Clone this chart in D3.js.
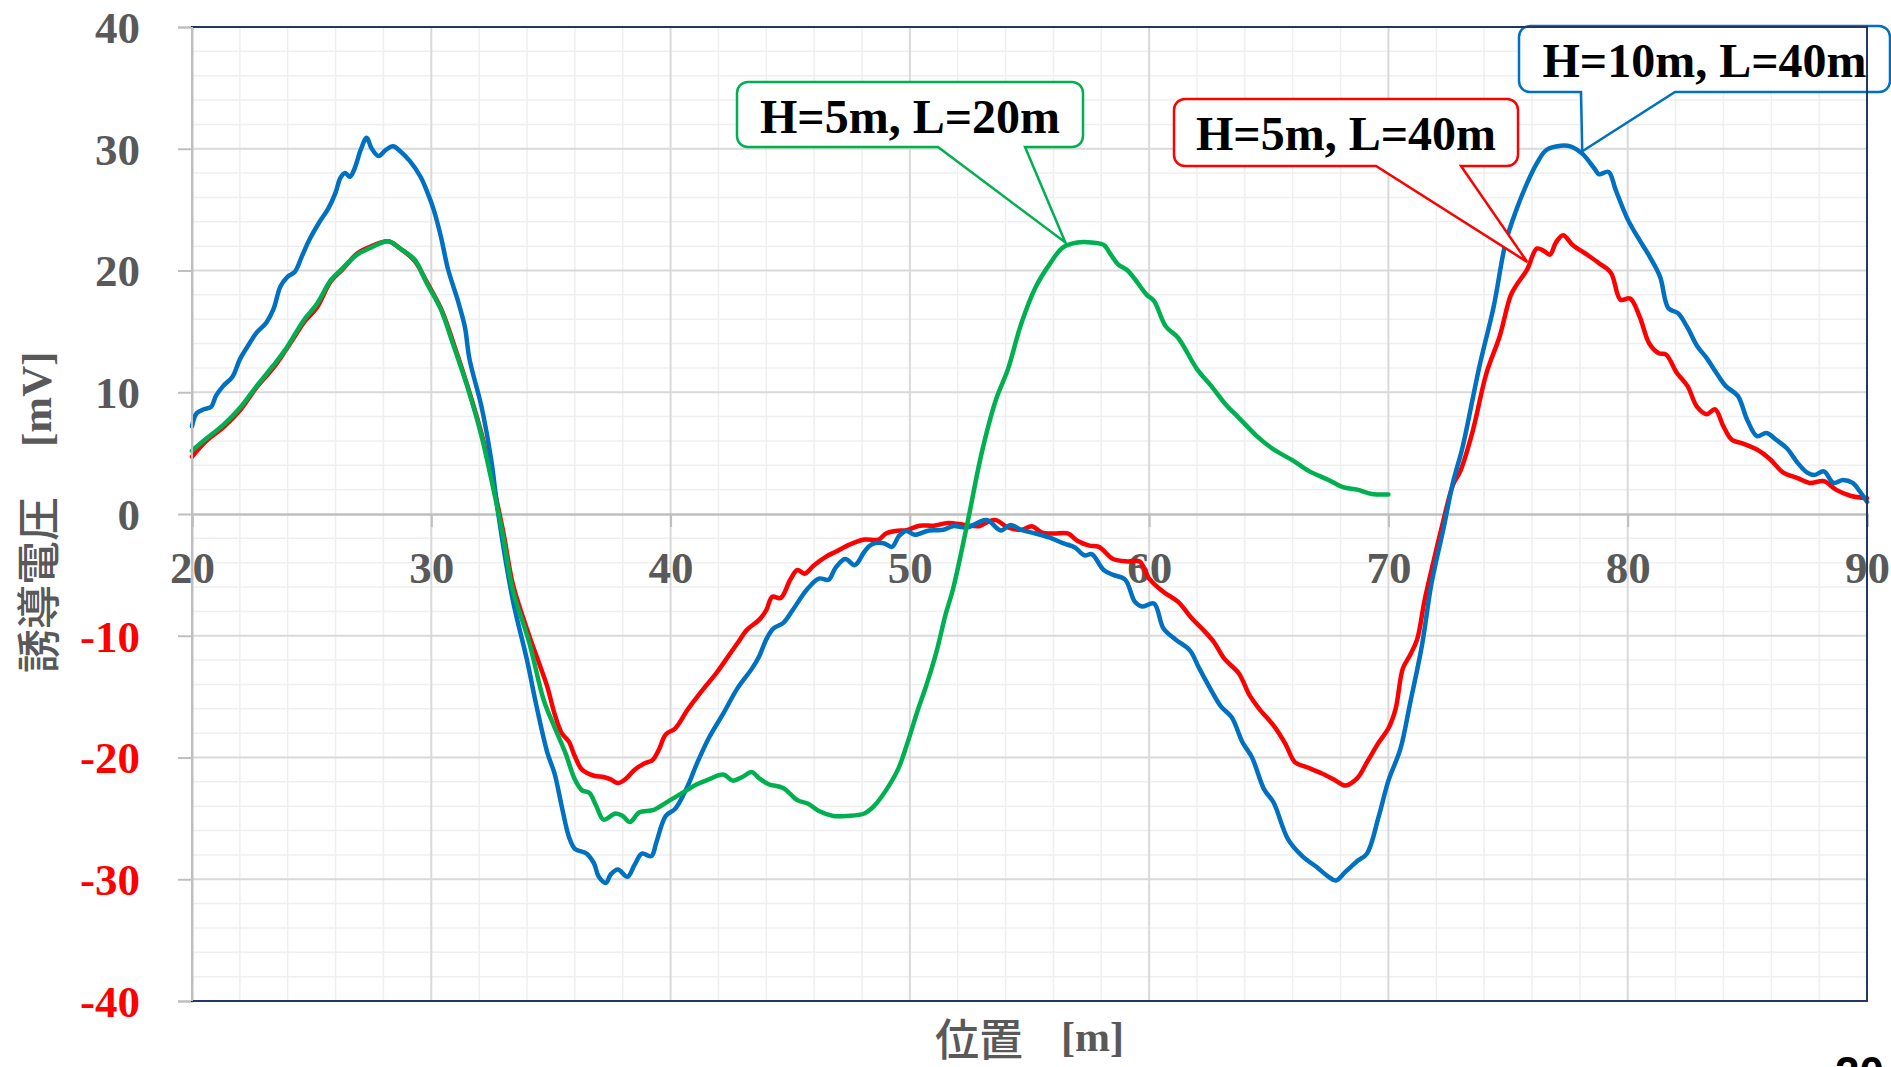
<!DOCTYPE html>
<html>
<head>
<meta charset="utf-8">
<script src="https://cdn.jsdelivr.net/npm/d3@7"></script>
<style>
  html, body { margin: 0; padding: 0; background: #fff; overflow: hidden; }
</style>
</head>
<body>
<svg id="chart"></svg>
<script>
// axis ticks
const xTicks = [20, 30, 40, 50, 60, 70, 80, 90];
const yTicks = [-40, -30, -20, -10, 0, 10, 20, 30, 40];

// H=10m, L=40m (blue)
const blueX = [20.0, 20.2, 20.5, 20.8, 21.0, 21.3, 21.7, 22.0, 22.4, 22.7, 23.1, 23.4, 23.7, 24.0, 24.3, 24.6, 24.9, 25.3, 25.7, 26.0,
  26.2, 26.4, 26.6, 26.8, 27.05, 27.3, 27.5, 27.8, 28.1, 28.4, 28.7, 29.1, 29.55, 29.8, 30.1, 30.4, 30.7, 31.1, 31.4, 31.6,
  32.1, 32.5, 32.8, 33.4, 34.0, 34.4, 34.85, 35.15, 35.45, 35.75, 36.0, 36.5, 36.8, 37.0, 37.3, 37.5, 37.8, 38.2, 38.5, 38.8,
  39.2, 39.4, 39.8, 40.2, 40.7, 41.1, 41.6, 42.2, 42.8, 43.4, 43.7, 44.0, 44.3, 44.7, 45.1, 45.7, 46.2, 46.6, 46.9, 47.3,
  47.7, 48.1, 48.4, 48.9, 49.25, 49.55, 49.85, 50.2, 50.8, 51.4, 51.8, 52.4, 53.2, 53.8, 54.2, 54.65, 55.25, 55.85, 56.4, 56.9,
  57.3, 57.6, 58.1, 58.5, 59.0, 59.4, 59.7, 60.2, 60.6, 61.1, 61.7, 62.1, 62.6, 63.0, 63.45, 63.9, 64.3, 64.8, 65.2, 65.8,
  66.4, 67.0, 67.5, 67.8, 68.2, 68.7, 69.1, 69.6, 70.0, 70.5, 70.9, 71.4, 71.8, 72.3, 72.7, 73.1, 73.8, 74.4, 74.9, 75.35,
  75.8, 76.2, 76.6, 77.2, 77.6, 78.1, 78.6, 78.8, 79.2, 79.5, 80.0, 80.4, 80.9, 81.35, 81.7, 82.1, 82.5, 82.9, 83.3, 83.7,
  84.1, 84.6, 85.0, 85.4, 85.8, 86.2, 86.65, 87.1, 87.5, 87.8, 88.2, 88.6, 89.0, 89.4, 89.7, 90.0];
const blueY = [7.2, 8.3, 8.6, 8.8, 9.7, 10.5, 11.3, 12.7, 14.0, 14.9, 15.7, 16.8, 18.7, 19.5, 19.9, 21.2, 22.5, 23.9, 25.1, 26.4,
  27.6, 28.0, 27.7, 28.4, 29.9, 30.9, 30.05, 29.4, 29.9, 30.2, 29.8, 29.0, 27.7, 26.6, 25.0, 22.8, 20.1, 17.6, 15.4, 12.7,
  8.8, 4.5, 0.0, -7.0, -12.0, -15.8, -19.6, -21.3, -24.0, -26.5, -27.5, -27.9, -28.7, -29.8, -30.3, -29.6, -29.2, -29.8, -28.8, -27.9,
  -28.1, -27.0, -24.8, -24.2, -22.4, -20.5, -18.4, -16.4, -14.3, -12.7, -11.7, -10.3, -9.4, -8.96, -7.9, -6.2, -5.3, -5.4, -4.4, -3.7,
  -4.2, -3.1, -2.5, -2.4, -2.7, -1.8, -1.4, -1.7, -1.35, -1.3, -1.0, -1.1, -0.5, -1.35, -0.9, -1.3, -1.6, -1.95, -2.4, -2.75,
  -3.4, -3.3, -4.6, -5.0, -5.4, -7.2, -7.6, -7.35, -9.4, -10.3, -11.2, -12.7, -14.5, -15.8, -16.7, -18.75, -20.0, -22.6, -23.7, -26.7,
  -28.1, -29.0, -29.8, -30.1, -29.4, -28.5, -27.9, -24.8, -21.9, -19.3, -15.6, -10.8, -5.7, -1.2, 2.6, 5.5, 12.1, 17.05, 22.3, 25.0,
  27.2, 28.8, 29.9, 30.25, 30.2, 29.6, 28.4, 27.9, 28.1, 26.6, 24.2, 22.8, 21.2, 19.5, 16.9, 16.5, 15.3, 13.8, 12.8, 11.6,
  10.5, 9.7, 7.7, 6.4, 6.65, 6.1, 5.4, 4.2, 3.4, 3.2, 3.5, 2.55, 2.8, 2.55, 1.85, 1.0];

// H=5m, L=40m (red)
const redX = [20.0, 20.6, 21.3, 22.0, 22.7, 23.4, 23.9, 24.3, 24.7, 25.2, 25.8, 26.3, 26.9, 27.5, 28.2, 28.7, 29.3, 29.8, 30.4, 30.9,
  31.5, 32.1, 32.6, 33.0, 33.4, 33.8, 34.2, 34.55, 34.85, 35.15, 35.45, 35.75, 36.0, 36.3, 36.8, 37.2, 37.5, 37.8, 38.1, 38.5,
  38.9, 39.25, 39.5, 39.8, 40.2, 40.7, 41.0, 41.4, 41.9, 42.3, 42.8, 43.2, 43.7, 44.0, 44.25, 44.6, 45.0, 45.3, 45.6, 46.0,
  46.5, 46.9, 47.5, 48.1, 48.7, 49.0, 49.4, 49.9, 50.4, 51.0, 51.6, 52.3, 52.9, 53.3, 53.6, 54.1, 54.65, 55.1, 55.5, 56.0,
  56.6, 57.0, 57.5, 57.9, 58.5, 59.1, 59.6, 60.0, 60.6, 61.2, 61.8, 62.3, 62.7, 63.15, 63.75, 64.2, 64.6, 65.25, 65.7, 66.1,
  66.6, 67.2, 67.8, 68.2, 68.7, 69.1, 69.6, 70.0, 70.3, 70.6, 70.9, 71.2, 71.5, 71.8, 72.25, 72.7, 73.0, 73.5, 74.1, 74.65,
  75.1, 75.35, 75.8, 76.2, 76.5, 76.75, 77.0, 77.3, 77.7, 78.3, 78.8, 79.3, 79.7, 80.1, 80.5, 80.9, 81.3, 81.6, 82.05, 82.5,
  82.9, 83.3, 83.65, 84.0, 84.35, 84.8, 85.4, 85.95, 86.5, 87.1, 87.6, 88.2, 88.7, 89.3, 90.0];
const redY = [4.7, 6.0, 7.1, 8.5, 10.4, 12.0, 13.4, 14.6, 15.8, 16.9, 19.1, 20.1, 21.4, 22.0, 22.4, 21.8, 20.8, 19.1, 16.9, 14.2,
  10.6, 6.6, 2.3, -1.4, -5.7, -8.3, -10.6, -12.5, -14.2, -16.4, -18.0, -18.7, -19.9, -21.0, -21.5, -21.6, -21.8, -22.1, -21.8, -21.0,
  -20.5, -20.2, -19.4, -18.1, -17.6, -16.1, -15.3, -14.3, -13.1, -12.0, -10.6, -9.5, -8.7, -7.9, -6.8, -6.9, -5.4, -4.6, -4.9, -4.2,
  -3.5, -3.1, -2.5, -2.1, -2.1, -1.6, -1.4, -1.3, -0.96, -0.96, -0.74, -0.9, -1.0, -0.6, -0.5, -1.1, -1.3, -1.0, -1.5, -1.6,
  -1.6, -2.2, -2.6, -2.7, -3.7, -3.9, -3.9, -5.3, -6.4, -7.2, -8.6, -9.6, -10.5, -11.9, -13.1, -14.9, -16.0, -17.5, -18.9, -20.4,
  -20.8, -21.3, -21.9, -22.3, -21.7, -20.4, -18.75, -17.6, -16.0, -12.7, -11.6, -10.3, -7.2, -4.6, -0.9, 2.4, 3.5, 6.65, 11.6, 14.6,
  17.9, 18.8, 20.1, 21.8, 21.6, 21.3, 22.3, 22.9, 22.1, 21.3, 20.6, 19.8, 17.6, 17.7, 16.2, 14.0, 13.2, 13.1, 11.6, 10.5,
  8.8, 8.2, 8.6, 7.2, 6.1, 5.8, 5.3, 4.5, 3.4, 2.95, 2.55, 2.7, 2.0, 1.5, 1.3];

// H=5m, L=20m (green)
const greenX = [20.0, 20.6, 21.3, 22.0, 22.7, 23.4, 23.9, 24.7, 25.2, 25.8, 26.3, 26.9, 27.5, 28.2, 28.7, 29.3, 29.8, 30.4, 30.9, 31.5,
  32.1, 32.6, 33.0, 33.4, 34.1, 34.7, 35.15, 35.6, 36.0, 36.3, 36.6, 36.9, 37.2, 37.7, 38.0, 38.3, 38.7, 39.3, 39.9, 40.5,
  41.1, 41.6, 42.2, 42.6, 43.0, 43.4, 43.7, 44.1, 44.7, 45.3, 45.75, 46.2, 46.8, 47.4, 48.1, 48.5, 49.0, 49.5, 49.9, 50.3,
  50.7, 51.1, 51.5, 51.8, 52.4, 53.0, 53.6, 54.1, 54.65, 55.25, 55.8, 56.4, 57.0, 57.6, 58.1, 58.4, 58.7, 59.1, 59.4, 59.9,
  60.2, 60.7, 61.2, 62.0, 62.6, 63.2, 63.75, 64.5, 65.2, 66.0, 66.7, 67.5, 68.1, 68.7, 69.3, 70.0];
const greenY = [5.2, 6.2, 7.3, 8.7, 10.5, 12.2, 13.5, 16.0, 17.2, 19.2, 20.2, 21.3, 21.9, 22.4, 21.8, 20.9, 19.0, 16.8, 14.0, 10.5,
  6.4, 2.0, -1.8, -6.2, -10.6, -15.3, -17.5, -19.6, -21.8, -22.7, -22.9, -24.0, -25.1, -24.6, -24.8, -25.3, -24.5, -24.3, -23.6, -22.9,
  -22.2, -21.8, -21.4, -21.9, -21.6, -21.2, -21.7, -22.2, -22.5, -23.5, -23.8, -24.4, -24.8, -24.8, -24.6, -24.0, -22.7, -21.0, -18.8, -16.3,
  -14.0, -11.4, -8.2, -6.2, -0.8, 5.0, 9.4, 11.9, 15.6, 18.6, 20.4, 21.9, 22.3, 22.3, 22.1, 21.3, 20.5, 20.0, 19.3, 18.0,
  17.5, 15.4, 14.5, 11.9, 10.5, 9.0, 7.9, 6.4, 5.3, 4.4, 3.5, 2.8, 2.2, 2.0, 1.65, 1.6];

// callout labels and the points they refer to
const calloutText = ['H=5m, L=20m', 'H=5m, L=40m', 'H=10m, L=40m'];
const calloutTipX = [56.5, 75.8, 78.1];
const calloutTipY = [22.3, 20.7, 29.8];

const width = 1891, height = 1067;
const pLeft = 192, pRight = 1867, pTop = 27, pBottom = 1001;

const svg = d3.select('#chart').attr('width', width).attr('height', height);

const x = d3.scaleLinear().domain([20, 90]).range([pLeft, pRight]);
const y = d3.scaleLinear().domain([-40, 40]).range([pBottom, pTop]);

// minor grid (every 2)
const minorX = d3.range(22, 90, 2).filter(v => v % 10 !== 0);
const minorY = d3.range(-38, 40, 2).filter(v => v % 10 !== 0);
svg.append('g').selectAll('line').data(minorX).enter().append('line')
  .attr('x1', d => x(d)).attr('x2', d => x(d)).attr('y1', pTop).attr('y2', pBottom)
  .attr('stroke', '#efefef').attr('stroke-width', 1.5);
svg.append('g').selectAll('line').data(minorY).enter().append('line')
  .attr('x1', pLeft).attr('x2', pRight).attr('y1', d => y(d)).attr('y2', d => y(d))
  .attr('stroke', '#efefef').attr('stroke-width', 1.5);

// major grid
svg.append('g').selectAll('line').data(xTicks.slice(1, -1)).enter().append('line')
  .attr('x1', d => x(d)).attr('x2', d => x(d)).attr('y1', pTop).attr('y2', pBottom)
  .attr('stroke', '#d9d9d9').attr('stroke-width', 2);
svg.append('g').selectAll('line').data(yTicks.filter(v => v !== 0)).enter().append('line')
  .attr('x1', pLeft).attr('x2', pRight).attr('y1', d => y(d)).attr('y2', d => y(d))
  .attr('stroke', '#d9d9d9').attr('stroke-width', 2);

// y axis (left)
const yAxis = d3.axisLeft(y).tickValues(yTicks).tickSize(14).tickPadding(38).tickFormat(d => String(d));
const gy = svg.append('g').attr('transform', `translate(${pLeft},0)`).call(yAxis);
gy.select('.domain').attr('stroke', '#bfbfbf').attr('stroke-width', 2);
gy.selectAll('.tick line').attr('stroke', '#bfbfbf').attr('stroke-width', 2);
gy.selectAll('.tick text')
  .attr('font-family', '"Liberation Serif", "Times New Roman", serif')
  .attr('font-weight', 'bold').attr('font-size', 45)
  .attr('dy', '0.34em')
  .attr('fill', d => d < 0 ? '#ff0000' : '#595959');

// x axis crossing at 0
const xAxis = d3.axisBottom(x).tickValues(xTicks).tickSize(13).tickPadding(24).tickFormat(d => String(d));
const gx = svg.append('g').attr('transform', `translate(0,${y(0)})`).call(xAxis);
gx.select('.domain').attr('stroke', '#bfbfbf').attr('stroke-width', 2.5);
gx.selectAll('.tick line').attr('stroke', '#bfbfbf').attr('stroke-width', 2);
gx.selectAll('.tick text')
  .attr('font-family', '"Liberation Serif", "Times New Roman", serif')
  .attr('font-weight', 'bold').attr('font-size', 45)
  .attr('fill', '#595959');

// series
const line = d3.line().x(d => x(d[0])).y(d => y(d[1])).curve(d3.curveCatmullRom.alpha(0.5));
const series = [
  { xs: redX, ys: redY, color: '#ff0000' },
  { xs: blueX, ys: blueY, color: '#0070c0' },
  { xs: greenX, ys: greenY, color: '#00b050' }
];
svg.append('g').selectAll('path').data(series).enter().append('path')
  .attr('d', s => line(s.xs.map((v, i) => [v, s.ys[i]])))
  .attr('fill', 'none').attr('stroke', s => s.color)
  .attr('stroke-width', 4.5).attr('stroke-linejoin', 'round').attr('stroke-linecap', 'round');

// callouts
const boxes = [
  { x: 737, y: 82, w: 346, h: 65, b1: 938, b2: 1025, color: '#00b050' },
  { x: 1174, y: 99, w: 344, h: 67, b1: 1376, b2: 1461, color: '#ff0000' },
  { x: 1519, y: 26, w: 371, h: 66, b1: 1581, b2: 1675, color: '#0070c0' }
];
function calloutPath(b, tx, ty) {
  const r = 11, x0 = b.x, y0 = b.y, x1 = b.x + b.w, y1 = b.y + b.h;
  return `M${x0 + r},${y0} H${x1 - r} A${r},${r} 0 0 1 ${x1},${y0 + r} V${y1 - r} A${r},${r} 0 0 1 ${x1 - r},${y1}` +
    ` H${b.b2} L${tx},${ty} L${b.b1},${y1} H${x0 + r} A${r},${r} 0 0 1 ${x0},${y1 - r} V${y0 + r} A${r},${r} 0 0 1 ${x0 + r},${y0} Z`;
}
const callouts = svg.append('g').selectAll('g').data(boxes).enter().append('g');
callouts.append('path')
  .attr('d', (b, i) => calloutPath(b, x(calloutTipX[i]), y(calloutTipY[i])))
  .attr('fill', '#fff').attr('stroke', b => b.color).attr('stroke-width', 2.5);
callouts.append('text')
  .attr('x', b => b.x + b.w / 2).attr('y', b => b.y + 51)
  .attr('text-anchor', 'middle')
  .attr('font-family', '"Liberation Serif", "Times New Roman", serif')
  .attr('font-weight', 'bold').attr('font-size', 48).attr('fill', '#000')
  .text((b, i) => calloutText[i]);

// plot border
svg.append('rect').attr('x', pLeft).attr('y', pTop).attr('width', pRight - pLeft).attr('height', pBottom - pTop)
  .attr('fill', 'none').attr('stroke', '#203864').attr('stroke-width', 2);
svg.append('line').attr('x1', pLeft).attr('x2', pLeft).attr('y1', pTop).attr('y2', pBottom)
  .attr('stroke', '#bfbfbf').attr('stroke-width', 2);

// axis titles
const yt = svg.append('text')
  .attr('transform', 'translate(36,673) rotate(-90)')
  .attr('dominant-baseline', 'central').attr('fill', '#595959');
yt.append('tspan').attr('font-family', '"Noto Sans CJK JP", sans-serif').attr('font-weight', 500)
  .attr('font-size', 44).text('誘導電圧');
yt.append('tspan').attr('dx', 50).attr('font-family', '"Liberation Serif", serif').attr('font-weight', 'bold')
  .attr('font-size', 43).text('[mV]');

const xt = svg.append('text')
  .attr('x', 935).attr('y', 1037)
  .attr('dominant-baseline', 'central').attr('fill', '#595959');
xt.append('tspan').attr('font-family', '"Noto Sans CJK JP", sans-serif').attr('font-weight', 500)
  .attr('font-size', 44).text('位置');
xt.append('tspan').attr('dx', 38).attr('font-family', '"Liberation Serif", serif').attr('font-weight', 'bold')
  .attr('font-size', 42).text('[m]');

// page number, cut at the bottom edge as in the slide
svg.append('text').attr('x', 1835).attr('y', 1088)
  .attr('font-family', '"Liberation Sans", Arial, sans-serif').attr('font-weight', 'bold')
  .attr('font-size', 44).attr('fill', '#000').text('20');
</script>
</body>
</html>
